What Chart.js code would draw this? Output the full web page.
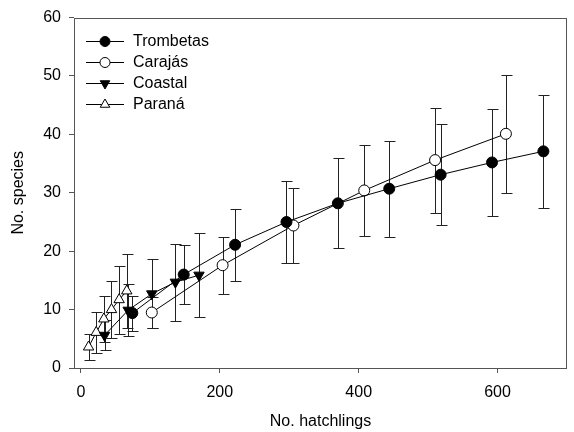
<!DOCTYPE html>
<html>
<head>
<meta charset="utf-8">
<script src="https://cdn.jsdelivr.net/npm/chart.js@4.4.1/dist/chart.umd.min.js"></script>
<style>
    html, body { margin: 0; padding: 0; background: #fff; }
</style>
</head>
<body>
<canvas id="myChart" width="574" height="432"></canvas>
<script>
// Số liệu (trung bình ± SD)
const trombetasX = [74, 148, 222, 296, 370, 444, 518, 592, 666];
const trombetasY = [9.4, 16.0, 21.1, 25.0, 28.2, 30.7, 33.1, 35.2, 37.1];
const trombetasSD = [3.0, 5.0, 6.2, 7.0, 7.7, 8.2, 8.6, 9.1, 9.7];

const carajasX = [102, 204, 306, 408, 510, 612];
const carajasY = [9.5, 17.6, 24.4, 30.4, 35.6, 40.1];
const carajasSD = [2.6, 4.9, 6.4, 7.8, 9.0, 10.1];

const coastalX = [34, 68, 102, 136, 170];
const coastalY = [5.6, 9.9, 12.7, 14.7, 15.9];
const coastalSD = [2.6, 4.5, 5.9, 6.6, 7.2];

const paranaX = [11, 22, 33, 44, 55, 66];
const paranaY = [3.6, 6.1, 8.4, 10.0, 11.7, 13.2];
const paranaSD = [2.2, 3.5, 4.0, 4.9, 5.8, 6.4];

const xTicks = [0, 200, 400, 600];
const yTicks = [0, 10, 20, 30, 40, 50, 60];

const FONT = 'Arial, "Liberation Sans", sans-serif';
const FONT_SIZE = 16;
const AXIS_COLOR = '#555';

const series = [
    { label: 'Trombetas', x: trombetasX, y: trombetasY, sd: trombetasSD, style: 'circle', fill: '#000', radius: 5.5, rotation: 0 },
    { label: 'Carajás', x: carajasX, y: carajasY, sd: carajasSD, style: 'circle', fill: '#fff', radius: 5.5, rotation: 0 },
    { label: 'Coastal', x: coastalX, y: coastalY, sd: coastalSD, style: 'triangle', fill: '#000', radius: 6, rotation: 180 },
    { label: 'Paraná', x: paranaX, y: paranaY, sd: paranaSD, style: 'triangle', fill: '#fff', radius: 6, rotation: 0 }
];

// Vẽ thanh sai số trước các đường
const errorBars = {
    id: 'errorBars',
    beforeDatasetsDraw(chart) {
        const ctx = chart.ctx;
        const xs = chart.scales.x;
        const ys = chart.scales.y;
        ctx.save();
        ctx.strokeStyle = '#222';
        ctx.lineWidth = 1;
        series.forEach(s => {
            s.x.forEach((xv, i) => {
                const px = Math.round(xs.getPixelForValue(xv)) + 0.5;
                const top = Math.round(ys.getPixelForValue(s.y[i] + s.sd[i])) + 0.5;
                const bot = Math.round(ys.getPixelForValue(s.y[i] - s.sd[i])) + 0.5;
                ctx.beginPath();
                ctx.moveTo(px, top);
                ctx.lineTo(px, bot);
                ctx.moveTo(px - 5, top);
                ctx.lineTo(px + 6, top);
                ctx.moveTo(px - 5, bot);
                ctx.lineTo(px + 6, bot);
                ctx.stroke();
            });
        });
        ctx.restore();
    }
};

// Khung, tiêu đề trục và legend tùy chỉnh
const frameAndLegend = {
    id: 'frameAndLegend',
    afterDraw(chart) {
        const ctx = chart.ctx;
        const area = chart.chartArea;
        ctx.save();
        ctx.strokeStyle = AXIS_COLOR;
        ctx.lineWidth = 1;
        ctx.strokeRect(Math.round(area.left) + 0.5, Math.round(area.top) + 0.5,
            Math.round(area.right - area.left) - 1, Math.round(area.bottom - area.top));

        ctx.fillStyle = '#000';
        ctx.font = FONT_SIZE + 'px ' + FONT;
        ctx.textAlign = 'center';
        ctx.textBaseline = 'middle';
        ctx.fillText('No. hatchlings', (area.left + area.right) / 2, 422);
        ctx.save();
        ctx.translate(19, (area.top + area.bottom) / 2);
        ctx.rotate(-Math.PI / 2);
        ctx.fillText('No. species', 0, 0);
        ctx.restore();

        series.forEach((s, i) => {
            const y = 41 + i * 21;
            ctx.strokeStyle = '#000';
            ctx.beginPath();
            ctx.moveTo(86, y + 0.5);
            ctx.lineTo(124, y + 0.5);
            ctx.stroke();
            ctx.fillStyle = s.fill;
            Chart.helpers.drawPoint(ctx, {
                pointStyle: s.style, radius: s.radius - 0.5, rotation: s.rotation, borderWidth: 1
            }, 105, y + 0.5);
            ctx.fillStyle = '#000';
            ctx.textAlign = 'left';
            ctx.fillText(s.label, 133, y + 1);
        });
        ctx.restore();
    }
};

const ctx = document.getElementById('myChart').getContext('2d');
const myChart = new Chart(ctx, {
    type: 'line',
    data: {
        datasets: series.map(s => ({
            label: s.label,
            data: s.x.map((xv, i) => ({ x: xv, y: s.y[i] })),
            borderColor: '#000',
            borderWidth: 1,
            pointStyle: s.style,
            pointRadius: s.radius,
            pointRotation: s.rotation,
            pointBackgroundColor: s.fill,
            pointBorderColor: '#000',
            pointBorderWidth: 1,
            fill: false,
            tension: 0,
            clip: false
        }))
    },
    options: {
        responsive: false,
        animation: false,
        layout: { padding: { top: 17, right: 2, left: 0, bottom: 0 } },
        plugins: {
            legend: { display: false },
            tooltip: { enabled: false }
        },
        scales: {
            x: {
                type: 'linear',
                min: -10,
                max: 700,
                afterBuildTicks: scale => { scale.ticks = xTicks.map(v => ({ value: v })); },
                afterFit: scale => { scale.height = 64; },
                grid: { drawOnChartArea: false, drawTicks: true, tickLength: 5, color: AXIS_COLOR },
                border: { display: false },
                ticks: { color: '#000', font: { family: FONT, size: FONT_SIZE }, padding: 10, maxRotation: 0 }
            },
            y: {
                type: 'linear',
                min: 0,
                max: 60,
                afterBuildTicks: scale => { scale.ticks = yTicks.map(v => ({ value: v })); },
                afterFit: scale => { scale.width = 74; },
                grid: { drawOnChartArea: false, drawTicks: true, tickLength: 5, color: AXIS_COLOR },
                border: { display: false },
                ticks: { color: '#000', font: { family: FONT, size: FONT_SIZE }, padding: 8 }
            }
        }
    },
    plugins: [errorBars, frameAndLegend]
});
</script>
</body>
</html>
